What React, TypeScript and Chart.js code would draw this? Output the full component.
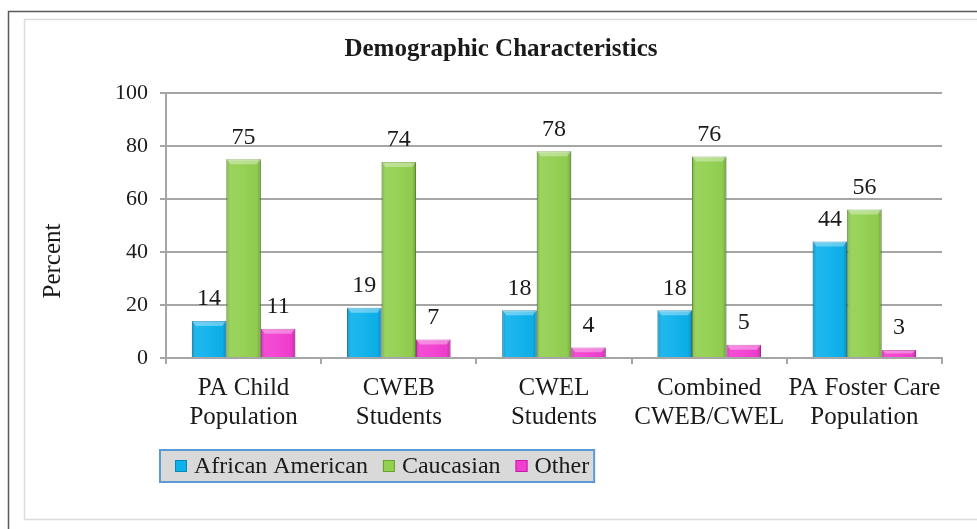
import React, { useEffect, useRef } from "react";
import { Chart, registerables } from "chart.js";

Chart.register(...registerables);

const categories: string[][] = [
  ["PA Child", "Population"],
  ["CWEB", "Students"],
  ["CWEL", "Students"],
  ["Combined", "CWEB/CWEL"],
  ["PA Foster Care", "Population"],
];
const africanAmerican = [14, 19, 18, 18, 44];
const caucasian = [75, 74, 78, 76, 56];
const other = [11, 7, 4, 5, 3];
const seriesNames = ["African American", "Caucasian", "Other"];
const seriesColors = ["#0db1ec", "#92d050", "#f23ed0"];
const seriesEdges = ["#0a86b8", "#6aa132", "#c21ea3"];
const yMin = 0;
const yMax = 100;
const yStep = 20;
const titleText = "Demographic Characteristics";
const yTitle = "Percent";

const FONT = '"Liberation Serif", "Times New Roman", serif';
const TEXT = "#1a1a1a";
const GRID = "#a6a6a6";

const decorPlugin = {
  id: "decor",
  beforeDraw(chart: any) {
    const ctx = chart.ctx;
    ctx.save();
    ctx.fillStyle = "#ffffff";
    ctx.fillRect(0, 0, chart.width, chart.height);
    ctx.strokeStyle = "#5a5a5a";
    ctx.lineWidth = 1.5;
    ctx.beginPath();
    ctx.moveTo(8.5, chart.height);
    ctx.lineTo(8.5, 11.5);
    ctx.lineTo(chart.width, 11.5);
    ctx.stroke();
    ctx.strokeStyle = "#dcdcdc";
    ctx.lineWidth = 1.5;
    ctx.strokeRect(24.5, 19.5, chart.width, 500);
    ctx.restore();
  },
  afterDatasetsDraw(chart: any) {
    const ctx = chart.ctx;
    ctx.save();
    chart.data.datasets.forEach((ds: any, di: number) => {
      const meta = chart.getDatasetMeta(di);
      meta.data.forEach((bar: any, i: number) => {
        const w = bar.width;
        const l = bar.x - w / 2;
        const r = bar.x + w / 2;
        const top = bar.y;
        const base = bar.base;
        const g = ctx.createLinearGradient(l, 0, r, 0);
        g.addColorStop(0, "rgba(0,0,0,0.18)");
        g.addColorStop(0.12, "rgba(255,255,255,0.08)");
        g.addColorStop(0.5, "rgba(255,255,255,0.04)");
        g.addColorStop(0.88, "rgba(0,0,0,0.02)");
        g.addColorStop(1, "rgba(0,0,0,0.22)");
        ctx.fillStyle = g;
        ctx.fillRect(l, top, w, base - top);
        const bev = Math.min(5, (base - top) / 2);
        ctx.fillStyle = "rgba(255,255,255,0.35)";
        ctx.beginPath();
        ctx.moveTo(l, top);
        ctx.lineTo(r, top);
        ctx.lineTo(r - 4, top + bev);
        ctx.lineTo(l + 4, top + bev);
        ctx.closePath();
        ctx.fill();
        ctx.fillStyle = TEXT;
        ctx.font = `24px ${FONT}`;
        ctx.textAlign = "center";
        ctx.textBaseline = "middle";
        ctx.fillText(String(ds.data[i]), bar.x, top - 22);
      });
    });
    ctx.restore();
  },
  afterDraw(chart: any) {
    const ctx = chart.ctx;
    ctx.save();
    ctx.fillStyle = TEXT;
    ctx.font = `bold 25px ${FONT}`;
    ctx.textAlign = "center";
    ctx.textBaseline = "middle";
    ctx.fillText(titleText, 501, 50);
    ctx.save();
    ctx.translate(53, 261);
    ctx.rotate(-Math.PI / 2);
    ctx.font = `25px ${FONT}`;
    ctx.fillText(yTitle, 0, 0);
    ctx.restore();
    ctx.font = `24px ${FONT}`;
    const lx = 160;
    const ly = 450;
    const lh = 32;
    let x = 175;
    const items: { sx: number; tx: number; label: string; i: number }[] = [];
    seriesNames.forEach((name, i) => {
      const sx = x;
      const tx = sx + 19;
      items.push({ sx, tx, label: name, i });
      x = tx + ctx.measureText(name).width + 15;
    });
    const lw = x - 15 + 5 - lx;
    ctx.fillStyle = "#d9d9d9";
    ctx.fillRect(lx, ly, lw, lh);
    ctx.strokeStyle = "#5b9bd5";
    ctx.lineWidth = 2;
    ctx.strokeRect(lx, ly, lw, lh);
    items.forEach((it) => {
      const cy = ly + lh / 2;
      ctx.fillStyle = seriesColors[it.i];
      ctx.fillRect(it.sx, cy - 6, 12, 12);
      ctx.strokeStyle = seriesEdges[it.i];
      ctx.lineWidth = 1;
      ctx.strokeRect(it.sx + 0.5, cy - 5.5, 11, 11);
      ctx.fillStyle = TEXT;
      ctx.textAlign = "left";
      ctx.textBaseline = "middle";
      ctx.fillText(it.label, it.tx, cy + 1);
    });
    ctx.restore();
  },
};

export default function App() {
  const ref = useRef<HTMLCanvasElement | null>(null);
  useEffect(() => {
    document.body.style.margin = "0";
    if (!ref.current) return;
    const values = [africanAmerican, caucasian, other];
    const chart = new Chart(ref.current, {
      type: "bar",
      data: {
        labels: categories,
        datasets: seriesNames.map((name, i) => ({
          label: name,
          data: values[i],
          backgroundColor: seriesColors[i],
          borderColor: seriesEdges[i],
          borderWidth: 1,
          categoryPercentage: 0.667,
          barPercentage: 1,
        })),
      },
      options: {
        responsive: false,
        animation: false,
        devicePixelRatio: 1,
        layout: { padding: { top: 93, right: 35, bottom: 91, left: 0 } },
        plugins: {
          legend: { display: false },
          title: { display: false },
          tooltip: { enabled: false },
        },
        scales: {
          x: {
            afterFit: (s: any) => {
              s.height = 80;
            },
            offset: true,
            grid: {
              display: true,
              drawOnChartArea: false,
              drawTicks: true,
              tickLength: 6,
              color: GRID,
              lineWidth: 2,
              offset: true,
            },
            border: { display: true, color: GRID, width: 2 },
            ticks: {
              color: TEXT,
              font: { family: FONT, size: 25, lineHeight: 1.16 },
              padding: 10,
              maxRotation: 0,
              autoSkip: false,
            },
          },
          y: {
            min: yMin,
            max: yMax,
            afterFit: (s: any) => {
              s.width = 166;
            },
            grid: {
              color: GRID,
              lineWidth: 2,
              tickLength: 6,
              drawTicks: true,
            },
            border: { display: true, color: GRID, width: 2 },
            ticks: {
              stepSize: yStep,
              color: TEXT,
              font: { family: FONT, size: 22 },
              padding: 12,
            },
          },
        },
      },
      plugins: [decorPlugin],
    });
    return () => chart.destroy();
  }, []);
  return (
    <div style={{ width: 977, height: 529 }}>
      <canvas ref={ref} width={977} height={529} style={{ display: "block", width: 977, height: 529 }} />
    </div>
  );
}
